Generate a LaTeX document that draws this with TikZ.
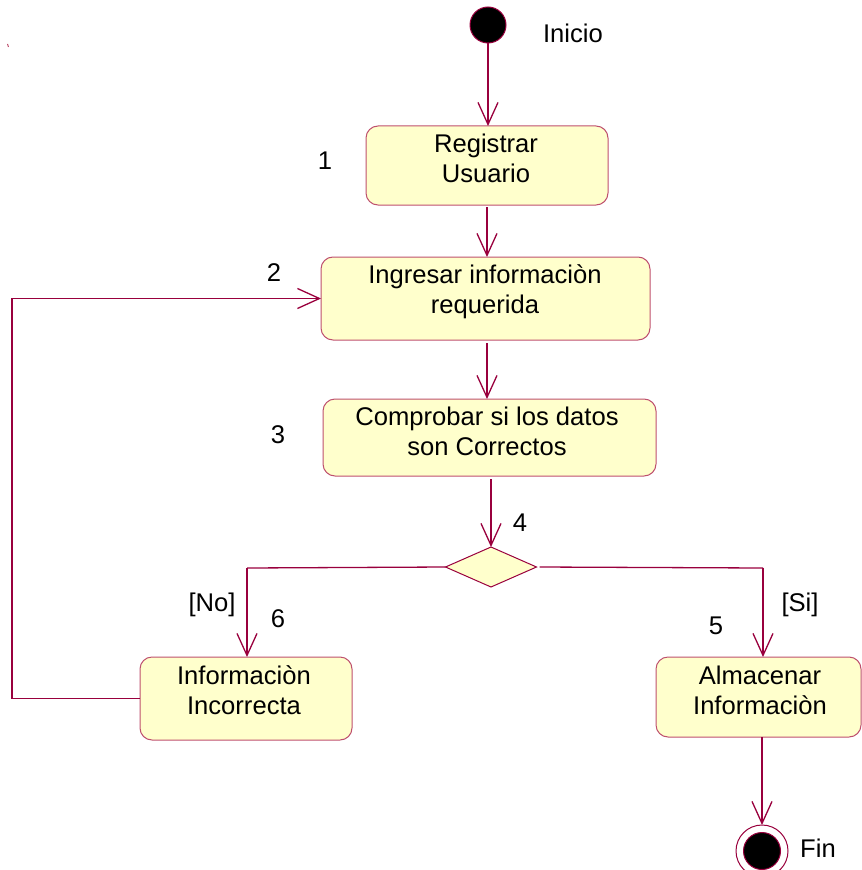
\documentclass[tikz,border=0pt]{standalone}
\usepackage{fontspec}
\setmainfont{Liberation Sans}
\usetikzlibrary{arrows.meta,shapes.geometric}
\newdimen\pxu
\pxu=0.75pt
\definecolor{flowline}{RGB}{153,0,61}
\definecolor{boxline}{RGB}{190,80,110}
\definecolor{boxfill}{RGB}{255,255,204}
\tikzset{
  actbox/.style={draw=boxline, fill=boxfill, line width=1\pxu, rounded corners=12\pxu,
    rectangle, inner sep=0pt, outer sep=0pt},
  acttext/.style={align=center, inner sep=0pt, font=\fontsize{19.2pt}{22.5pt}\selectfont},
  plain/.style={inner sep=0pt, font=\fontsize{19.2pt}{22.5pt}\selectfont},
  flow/.style={draw=flowline, line width=0.975pt,
    -{Straight Barb[length=16.5pt, width=15pt, line width=0.975pt]}},
  link/.style={draw=flowline, line width=0.975pt},
  decision/.style={diamond, draw=flowline, fill=boxfill, line width=1\pxu,
    inner sep=0pt, outer sep=0pt, minimum width=91\pxu, minimum height=40\pxu, aspect=2.3},
}
\begin{document}
\begin{tikzpicture}[x=0.75pt, y=-0.75pt]
  \useasboundingbox (0,0) rectangle (862,870);

  % start and end markers
  \node[circle, draw=flowline, fill=black, line width=1\pxu, minimum size=36\pxu,
        inner sep=0pt, outer sep=0pt] (start) at (488,25) {};
  \node[plain] (startlbl) at (573,33) {Inicio};

  % activities
  \node[actbox, minimum width=242\pxu, minimum height=79\pxu] (reg) at (487,165.5) {};
  \node[acttext] (regtxt) at (486,158) {Registrar\\Usuario};
  \node[plain] (n1) at (325,161) {1};

  \node[actbox, minimum width=329\pxu, minimum height=83\pxu] (ing) at (485.5,298.5) {};
  \node[acttext] (ingtxt) at (485,292) {Ingresar informaciòn\\requerida};
  \node[plain] (n2) at (274,273) {2};

  \node[actbox, minimum width=333\pxu, minimum height=77\pxu] (comp) at (489.5,437.5) {};
  \node[acttext] (comptxt) at (487,431) {Comprobar si los datos\\son Correctos};
  \node[plain] (n3) at (278,435) {3};

  \node[decision] (dec) at (491,567) {};
  \node[plain] (n4) at (520,523) {4};

  \node[actbox, minimum width=212\pxu, minimum height=83\pxu] (inc) at (246,698.5) {};
  \node[acttext] (inctxt) at (244,690.5) {Informaciòn\\Incorrecta};
  \node[plain] (n6) at (278,619) {6};
  \node[plain] (nolbl) at (212,605) {[No]};

  \node[actbox, minimum width=205\pxu, minimum height=80\pxu] (alm) at (758.5,697) {};
  \node[acttext] (almtxt) at (760,690) {Almacenar\\Informaciòn};
  \node[plain] (n5) at (716,626) {5};
  \node[plain] (silbl) at (800,605) {[Si]};

  \node[circle, draw=flowline, fill=white, line width=1\pxu, minimum size=52\pxu,
        inner sep=0pt, outer sep=0pt] (fin) at (762,851) {};
  \node[circle, draw=flowline, fill=black, line width=1\pxu, minimum size=37\pxu,
        inner sep=0pt] (fincore) at (fin.center) {};
  \node[plain] (finlbl) at (818,848) {Fin};

  % connectors
  \draw[flow] (start.south) -- (start.south |- reg.north);
  \draw[flow] ([yshift=-2\pxu]reg.south) -- (reg.south |- ing.north);
  \draw[flow] ([xshift=1.5\pxu,yshift=-3\pxu]ing.south) -- ([xshift=1.5\pxu]ing.south |- comp.north);
  \draw[flow] ([xshift=1.5\pxu,yshift=-3\pxu]comp.south) -- (dec.north);

  \coordinate (noturn) at (247,568);
  \coordinate (siturn) at (763,568);
  \draw[link] (dec.west) -- (noturn);
  \draw[flow] (noturn) -- (noturn |- inc.north);
  \draw[link] ([xshift=3\pxu]dec.east) -- (siturn);
  \draw[flow] (siturn) -- (siturn |- alm.north);

  \coordinate (loopcorner) at (12,700);
  \draw[flow] (inc.west) -- (inc.west -| loopcorner) |- (ing.west);

  \draw[flow] (fin.center |- alm.south) -- (fin.north);

  % stray mark at the upper left
  \draw[boxline, line width=1\pxu] (7.5,44) -- (8.5,47);
\end{tikzpicture}
\end{document}
